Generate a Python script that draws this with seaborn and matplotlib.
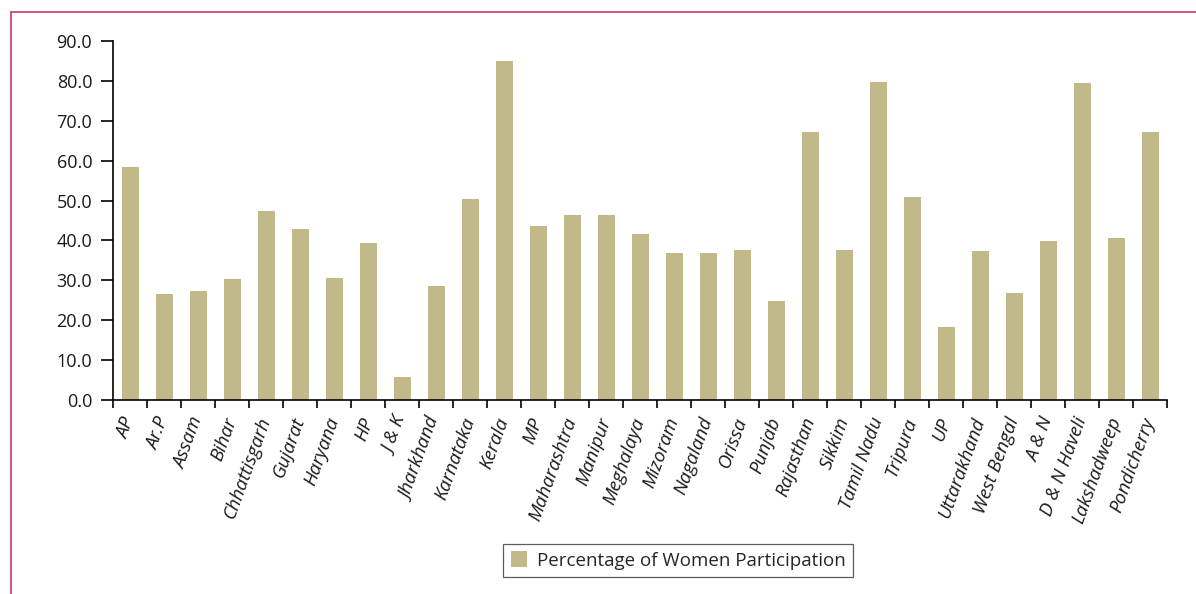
import matplotlib
matplotlib.use("Agg")
import matplotlib.pyplot as plt
from matplotlib.lines import Line2D
from matplotlib.patches import Patch
from matplotlib.ticker import FixedLocator, FormatStrFormatter
from matplotlib.transforms import ScaledTranslation
import seaborn as sns
import pandas as pd
import numpy as np

states = ["AP", "Ar.P", "Assam", "Bihar", "Chhattisgarh", "Gujarat", "Haryana", "HP",
          "J & K", "Jharkhand", "Karnataka", "Kerala", "MP", "Maharashtra", "Manipur",
          "Meghalaya", "Mizoram", "Nagaland", "Orissa", "Punjab", "Rajasthan", "Sikkim",
          "Tamil Nadu", "Tripura", "UP", "Uttarakhand", "West Bengal", "A & N",
          "D & N Haveli", "Lakshadweep", "Pondicherry"]
women_pct = [58.3, 26.5, 27.3, 30.3, 47.5, 42.8, 30.7, 39.3,
             5.8, 28.6, 50.5, 85.0, 43.7, 46.3, 46.3,
             41.6, 36.8, 36.8, 37.7, 24.8, 67.3, 37.7,
             79.8, 51.0, 18.4, 37.3, 26.9, 39.8,
             79.4, 40.7, 67.3]
series_name = "Percentage of Women Participation"

sns.set_theme(style="white")
plt.rcParams["font.family"] = ["Open Sans", "DejaVu Sans"]

bar_color = "#C2B98B"
df = pd.DataFrame({"state": states, "pct": women_pct})

fig = plt.figure(figsize=(11.96, 5.94), dpi=100)
ax = fig.add_axes([113 / 1196, 1 - 400 / 594, (1167 - 113) / 1196, (400 - 41) / 594])

sns.barplot(data=df, x="state", y="pct", color=bar_color, width=0.5,
            saturation=1, ax=ax, edgecolor="none")

ax.set_xlim(-0.5, len(states) - 0.5)
ax.set_ylim(0, 90)
ax.set_yticks(np.arange(0, 91, 10))
ax.yaxis.set_major_formatter(FormatStrFormatter("%.1f"))
ax.set_xlabel("")
ax.set_ylabel("")

# category labels on major ticks, tick marks on category boundaries
ax.set_xticks(range(len(states)))
ax.set_xticklabels(states, rotation=70, ha="right", va="center", rotation_mode="anchor",
                   style="italic", fontsize=13.5, color="#1a1a1a")
shift = ScaledTranslation(3 / 72, 0, fig.dpi_scale_trans)
for lbl in ax.get_xticklabels():
    lbl.set_transform(lbl.get_transform() + shift)
ax.xaxis.set_minor_locator(FixedLocator(np.arange(-0.5, len(states), 1)))
ax.tick_params(axis="x", which="major", length=0, pad=13)
ax.tick_params(axis="x", which="minor", length=6, width=1.2, color="black", direction="out", bottom=True)
ax.tick_params(axis="y", which="major", length=9, width=1.2, color="black", direction="out",
               labelsize=13, labelcolor="#1a1a1a", pad=6, left=True)

for side in ["top", "right"]:
    ax.spines[side].set_visible(False)
for side in ["left", "bottom"]:
    ax.spines[side].set_visible(True)
    ax.spines[side].set_color("black")
    ax.spines[side].set_linewidth(1.2)

handle = Patch(facecolor=bar_color, edgecolor="none", label=series_name)
leg = fig.legend(handles=[handle], loc="center", bbox_to_anchor=(678 / 1196, 1 - 560.5 / 594),
                 frameon=True, fancybox=False, fontsize=13.5, handlelength=0.9, handleheight=0.9,
                 handletextpad=0.5, borderpad=0.4)
leg.get_frame().set_edgecolor("#333333")
leg.get_frame().set_linewidth(0.9)

# page frame along the top and left edge
fig.add_artist(Line2D([11 / 1196, 1.0], [1 - 12 / 594, 1 - 12 / 594], color="#D0376A", lw=1.2))
fig.add_artist(Line2D([11 / 1196, 11 / 1196], [0, 1 - 12 / 594], color="#D0376A", lw=1.2))

fig.savefig("out.png", dpi=100)
